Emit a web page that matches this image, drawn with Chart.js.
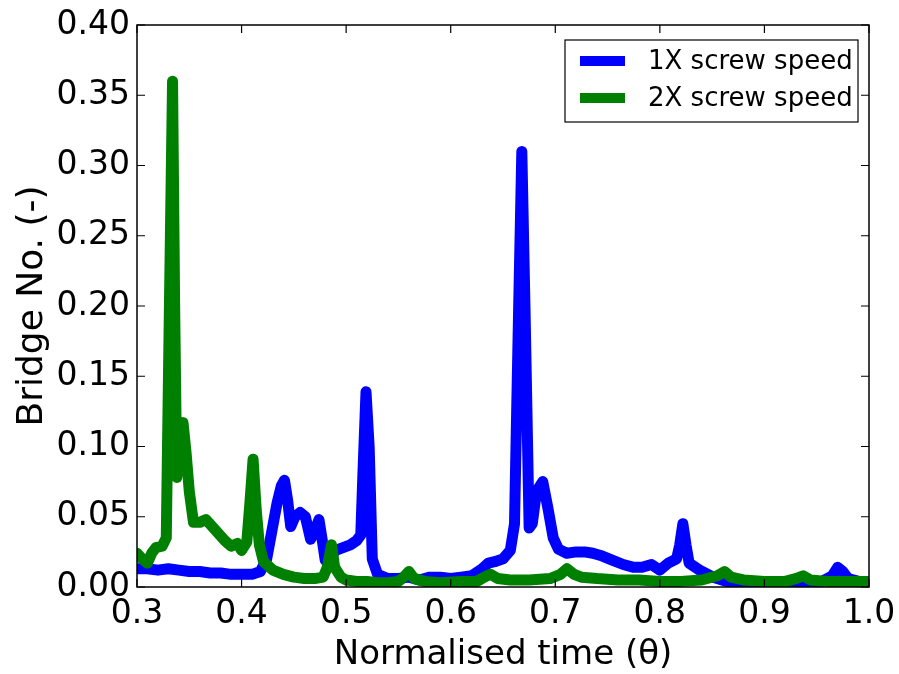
<!DOCTYPE html>
<html>
<head>
<meta charset="utf-8">
<script src="https://cdn.jsdelivr.net/npm/chart.js@4"></script>
<style>
  html, body { margin: 0; padding: 0; background: #fff; }
  #wrap { width: 899px; height: 674px; }
</style>
</head>
<body>
<div id="wrap"><canvas id="chart1" width="899" height="674"></canvas></div>
<script>
// 1X screw speed
const time1X = [0.300, 0.310, 0.320, 0.330, 0.340, 0.350, 0.360, 0.370, 0.380, 0.390,
  0.400, 0.410, 0.418, 0.424, 0.428, 0.434, 0.438, 0.441, 0.444, 0.447,
  0.451, 0.456, 0.461, 0.466, 0.470, 0.474, 0.477, 0.480, 0.484, 0.490,
  0.497, 0.504, 0.510, 0.514, 0.516, 0.519, 0.522, 0.525, 0.530, 0.540,
  0.550, 0.560, 0.570, 0.580, 0.590, 0.600, 0.610, 0.620, 0.630, 0.636,
  0.642, 0.650, 0.657, 0.661, 0.665, 0.668, 0.671, 0.675, 0.678, 0.682,
  0.688, 0.693, 0.698, 0.703, 0.711, 0.720, 0.728, 0.736, 0.745, 0.755,
  0.765, 0.775, 0.783, 0.792, 0.800, 0.808, 0.816, 0.819, 0.822, 0.825,
  0.828, 0.838, 0.851, 0.864, 0.880, 0.900, 0.920, 0.940, 0.955, 0.965,
  0.970, 0.975, 0.980, 0.990, 1.000];
const bridge1X = [0.013, 0.013, 0.012, 0.013, 0.012, 0.011, 0.011, 0.010, 0.010, 0.009,
  0.009, 0.009, 0.011, 0.020, 0.036, 0.060, 0.072, 0.076, 0.062, 0.043,
  0.050, 0.053, 0.050, 0.034, 0.040, 0.048, 0.034, 0.019, 0.020, 0.026,
  0.028, 0.030, 0.033, 0.037, 0.080, 0.139, 0.100, 0.020, 0.009, 0.006,
  0.006, 0.007, 0.005, 0.007, 0.007, 0.006, 0.007, 0.008, 0.013, 0.017,
  0.018, 0.020, 0.026, 0.045, 0.200, 0.310, 0.200, 0.042, 0.045, 0.068,
  0.075, 0.056, 0.035, 0.027, 0.024, 0.025, 0.025, 0.024, 0.022, 0.019,
  0.016, 0.014, 0.014, 0.016, 0.012, 0.017, 0.020, 0.030, 0.045, 0.030,
  0.017, 0.012, 0.007, 0.004, 0.003, 0.003, 0.003, 0.003, 0.004, 0.008,
  0.014, 0.011, 0.006, 0.004, 0.004];

// 2X screw speed
const time2X = [0.300, 0.305, 0.310, 0.314, 0.318, 0.324, 0.328, 0.331, 0.334, 0.336,
  0.338, 0.341, 0.344, 0.347, 0.350, 0.354, 0.360, 0.366, 0.372, 0.378,
  0.384, 0.390, 0.396, 0.400, 0.405, 0.408, 0.411, 0.414, 0.417, 0.421,
  0.430, 0.440, 0.450, 0.460, 0.470, 0.478, 0.482, 0.486, 0.489, 0.495,
  0.500, 0.510, 0.520, 0.530, 0.540, 0.550, 0.555, 0.560, 0.565, 0.575,
  0.590, 0.610, 0.625, 0.632, 0.638, 0.645, 0.657, 0.675, 0.695, 0.705,
  0.711, 0.718, 0.725, 0.740, 0.760, 0.780, 0.800, 0.820, 0.840, 0.855,
  0.862, 0.868, 0.880, 0.900, 0.920, 0.930, 0.937, 0.944, 0.960, 0.980,
  1.000];
const bridge2X = [0.024, 0.020, 0.017, 0.024, 0.028, 0.029, 0.035, 0.200, 0.360, 0.200,
  0.078, 0.100, 0.117, 0.095, 0.068, 0.046, 0.046, 0.048, 0.043, 0.038,
  0.033, 0.029, 0.031, 0.026, 0.032, 0.060, 0.091, 0.055, 0.030, 0.018,
  0.012, 0.009, 0.007, 0.006, 0.006, 0.007, 0.014, 0.030, 0.014, 0.007,
  0.005, 0.004, 0.004, 0.003, 0.003, 0.004, 0.007, 0.011, 0.006, 0.004,
  0.003, 0.004, 0.004, 0.007, 0.009, 0.006, 0.005, 0.005, 0.006, 0.009,
  0.013, 0.009, 0.007, 0.006, 0.005, 0.005, 0.004, 0.004, 0.005, 0.008,
  0.011, 0.007, 0.005, 0.004, 0.004, 0.006, 0.008, 0.005, 0.004, 0.004,
  0.004];

const seriesLabels = ['1X screw speed', '2X screw speed'];
const xTicks = [0.3, 0.4, 0.5, 0.6, 0.7, 0.8, 0.9, 1.0];
const yTicks = [0.00, 0.05, 0.10, 0.15, 0.20, 0.25, 0.30, 0.35, 0.40];

const toPoints = (xs, ys) => xs.map((x, i) => ({ x: x, y: ys[i] }));

// frame on all four sides with inward tick marks
const framePlugin = {
  id: 'frame',
  afterDraw(chart) {
    const { ctx, chartArea: a, scales } = chart;
    ctx.save();
    ctx.strokeStyle = '#000';
    ctx.lineWidth = 1.5;
    ctx.strokeRect(a.left, a.top, a.right - a.left, a.bottom - a.top);
    ctx.lineWidth = 1.2;
    ctx.beginPath();
    xTicks.forEach(v => {
      const px = scales.x.getPixelForValue(v);
      ctx.moveTo(px, a.bottom); ctx.lineTo(px, a.bottom - 8);
      ctx.moveTo(px, a.top); ctx.lineTo(px, a.top + 8);
    });
    yTicks.forEach(v => {
      const py = scales.y.getPixelForValue(v);
      ctx.moveTo(a.left, py); ctx.lineTo(a.left + 8, py);
      ctx.moveTo(a.right, py); ctx.lineTo(a.right - 8, py);
    });
    ctx.stroke();
    ctx.restore();
  }
};

// boxed legend in the upper right corner
const boxLegend = {
  id: 'boxLegend',
  afterDraw(chart) {
    const { ctx, chartArea: a } = chart;
    const x0 = a.right - 304, y0 = a.top + 15, w = 293, h = 82;
    ctx.save();
    ctx.fillStyle = '#fff';
    ctx.fillRect(x0, y0, w, h);
    ctx.strokeStyle = '#000';
    ctx.lineWidth = 1.2;
    ctx.strokeRect(x0, y0, w, h);
    ctx.font = '26px "DejaVu Sans"';
    ctx.textBaseline = 'middle';
    chart.data.datasets.forEach((ds, i) => {
      const cy = y0 + 21 + i * 37;
      ctx.strokeStyle = ds.borderColor;
      ctx.lineWidth = 10;
      ctx.lineCap = 'butt';
      ctx.beginPath();
      ctx.moveTo(x0 + 15, cy); ctx.lineTo(x0 + 60, cy);
      ctx.stroke();
      ctx.fillStyle = '#000';
      ctx.fillText(ds.label, x0 + 83, cy + 1);
    });
    ctx.restore();
  }
};

const ctx1 = document.getElementById('chart1').getContext('2d');
new Chart(ctx1, {
  type: 'line',
  data: {
    datasets: [
      // green is drawn over blue
      { label: seriesLabels[0], data: toPoints(time1X, bridge1X), borderColor: '#0000ff', order: 1 },
      { label: seriesLabels[1], data: toPoints(time2X, bridge2X), borderColor: '#008000', order: 0 }
    ]
  },
  options: {
    responsive: false,
    animation: false,
    layout: { padding: { top: 25, right: 30, left: 0, bottom: 0 } },
    elements: {
      point: { radius: 0 },
      line: { borderWidth: 11, tension: 0, fill: false, borderJoinStyle: 'round', borderCapStyle: 'round' }
    },
    plugins: { legend: { display: false }, tooltip: { enabled: false } },
    scales: {
      x: {
        type: 'linear', min: 0.3, max: 1.0,
        afterBuildTicks: s => { s.ticks = xTicks.map(v => ({ value: v })); },
        afterFit: s => { s.height = 87; s.paddingLeft = 0; s.paddingRight = 0; },
        grid: { display: false, drawTicks: false },
        border: { display: false },
        ticks: {
          color: '#000', padding: 8,
          font: { family: 'DejaVu Sans', size: 33 },
          maxRotation: 0, autoSkip: false,
          callback: v => v.toFixed(1)
        },
        title: {
          display: true, text: 'Normalised time (θ)', color: '#000',
          font: { family: 'DejaVu Sans', size: 34 }, padding: { top: 0, bottom: -2 }
        }
      },
      y: {
        min: 0, max: 0.4,
        afterBuildTicks: s => { s.ticks = yTicks.map(v => ({ value: v })); },
        afterFit: s => { s.width = 137; s.paddingTop = 0; s.paddingBottom = 0; },
        grid: { display: false, drawTicks: false },
        border: { display: false },
        ticks: {
          color: '#000', padding: 7,
          font: { family: 'DejaVu Sans', size: 33 },
          autoSkip: false,
          callback: v => v.toFixed(2)
        },
        title: {
          display: true, text: 'Bridge No. (-)', color: '#000',
          font: { family: 'DejaVu Sans', size: 36 }, padding: { top: 11, bottom: 0 }
        }
      }
    }
  },
  plugins: [framePlugin, boxLegend]
});
</script>
</body>
</html>
